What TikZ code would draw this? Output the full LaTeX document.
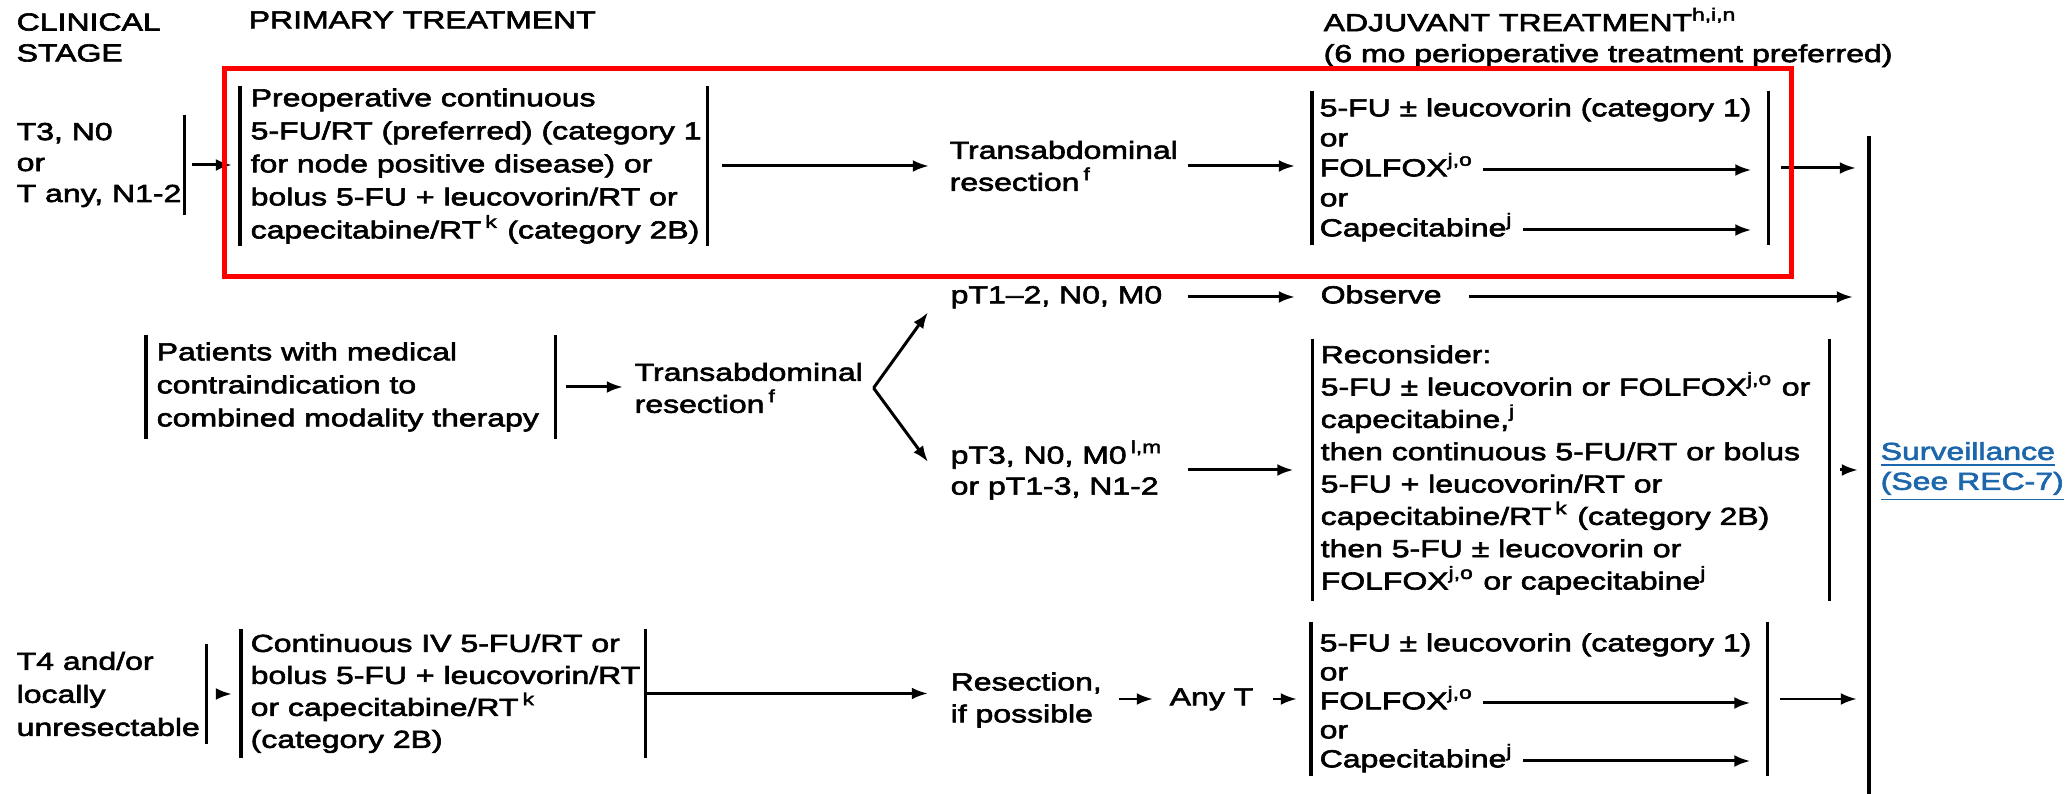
\documentclass[tikz,border=0pt]{standalone}
\usepackage{fontspec}
\setmainfont[FakeStretch=1.3,FakeBold=2.5]{Liberation Sans}
\usetikzlibrary{arrows.meta,positioning}
\definecolor{survblue}{RGB}{28,102,172}
\newcommand{\fnm}[1]{\textsuperscript{#1}}

\begin{document}
\begin{tikzpicture}[
  every node/.style={font=\fontsize{7pt}{9pt}\selectfont, align=left,
                     inner xsep=0.06cm, inner ysep=0.03cm},
  lead/.style={font=\fontsize{7pt}{#1}\selectfont},
  one/.style={text height=5.1pt, text depth=1.5pt},
  framebox/.style args={#1/#2}{inner sep=0pt, anchor=west,
                               minimum width=#1, minimum height=#2},
  bar/.style={line width=0.9pt},
  arr/.style={-{Latex[length=4.6pt,width=3.4pt]}, line width=0.85pt,
              shorten <=0.10cm, shorten >=0.10cm},
  gaparr/.style={arr, shorten <=0.19cm, shorten >=0.19cm},
  inarr/.style={arr, shorten <=0.03cm, shorten >=0.17cm},
]

\useasboundingbox (0,0) rectangle (20.69,7.94);

%% Column headers
\node[anchor=west, lead=8.8pt] (hstage) at (0.10,7.565) {CLINICAL\\STAGE};
\node[anchor=west, one] (hprim) at (2.42,7.72) {PRIMARY TREATMENT};
\node[anchor=west, lead=8.8pt] (hadj) at (13.17,7.565)
  {ADJUVANT TREATMENT\fnm{h,i,n}\\(6 mo perioperative treatment preferred)};

%% Surveillance line (all rows end here)
\coordinate (survtop) at (18.69,6.58);
\coordinate (survbot) at (18.69,0);
\draw[bar] (survtop) -- (survbot);

%% Row 1: T3, N0 or T any, N1-2
\node[framebox=1.73cm/0.98cm] (stage1) at (0.10,6.29) {};
\node[anchor=west, lead=8.8pt] (stage1-t) at (0.10,6.29) {T3, N0\\or\\T any, N1-2};
\node[framebox=4.66cm/1.58cm] (prim1) at (2.40,6.28) {};
\node[anchor=west, lead=9.4pt] (prim1-t) at (2.44,6.28)
  {Preoperative continuous\\5-FU/RT (preferred) (category 1\\for node positive disease) or\\bolus 5-FU + leucovorin/RT or\\capecitabine/RT\,\fnm{k} (category 2B)};
\node[anchor=west, lead=9.1pt] (trans1) at (9.43,6.28) {Transabdominal\\resection\,\fnm{f}};
\node[framebox=4.55cm/1.52cm] (adj1) at (13.12,6.26) {};
\foreach \i/\t in {0/{5-FU ± leucovorin (category 1)}, 1/or, 2/{FOLFOX\fnm{j,o}}, 3/or, 4/{Capecitabine\fnm{j}}}
  \node[anchor=west, one] (adj1-\i) at (13.13,6.84-0.30*\i) {\t};

\draw[arr, shorten <=0.08cm, shorten >=0.08cm] (stage1.east) -- (stage1.east -| prim1.west);
\draw[arr, shorten <=0.15cm, shorten >=0.14cm] (prim1.east) -- (prim1.east -| trans1.west);
\draw[arr, shorten <=0.03cm, shorten >=0.17cm] (trans1.east |- prim1.east) -- (adj1.west |- prim1.east);
\draw[inarr] (adj1-2.east) -- (adj1-2.east -| adj1.east);
\draw[inarr] (adj1-4.east) -- (adj1-4.east -| adj1.east);
\draw[arr, shorten <=0.13cm, shorten >=0.13cm] (adj1.east) -- (adj1.east -| survtop);

%% Row 2: medical contraindication
\node[anchor=west, one] (pT12) at (9.44,4.97) {pT1–2, N0, M0};
\node[anchor=west, one] (obs) at (13.14,4.97) {Observe};
\draw[gaparr] (pT12) -- (obs);
\draw[arr, shorten <=0.21cm, shorten >=0.16cm] (obs.east) -- (obs.east -| survtop);

\node[framebox=4.08cm/1.03cm] (pat) at (1.46,4.07) {};
\node[anchor=west, lead=9.4pt] (pat-t) at (1.50,4.07)
  {Patients with medical\\contraindication to\\combined modality therapy};
\node[anchor=west, lead=9.1pt] (trans2) at (6.28,4.06) {Transabdominal\\resection\,\fnm{f}};
\draw[arr, shorten <=0.11cm, shorten >=0.05cm] (pat.east) -- (pat.east -| trans2.west);

\node[anchor=west, lead=8.8pt] (pT3) at (9.44,3.24) {pT3, N0, M0\,\fnm{l,m}\\or pT1-3, N1-2};
\coordinate (branch) at ([xshift=0.04cm]trans2.east);
\draw[arr, shorten <=0pt, shorten >=0pt] (branch) -- ([xshift=-0.16cm]pT12.south west);
\draw[arr, shorten <=0pt, shorten >=0pt] (branch) -- ([xshift=-0.16cm,yshift=0.08cm]pT3.west);

\node[framebox=5.155cm/2.60cm] (recon) at (13.125,3.24) {};
\node[anchor=west, lead=9.2pt] (recon-t) at (13.14,3.24)
  {Reconsider:\\5-FU ± leucovorin or FOLFOX\fnm{j,o} or\\capecitabine,\fnm{j}\\then continuous 5-FU/RT or bolus\\5-FU + leucovorin/RT or\\capecitabine/RT\,\fnm{k} (category 2B)\\then 5-FU ± leucovorin or\\FOLFOX\fnm{j,o} or capecitabine\fnm{j}};
\draw[arr, shorten <=0.18cm, shorten >=0.19cm] (pT3.east) -- (pT3.east -| recon.west);
\draw[arr, shorten <=0.11cm, shorten >=0.11cm] (recon.east) -- (recon.east -| survtop);
\node[anchor=west, lead=8.5pt, text=survblue] (surv) at (18.74,3.22)
  {\underline{Surveillance}\\\underline{(See REC-7)}};

%% Row 3: T4 and/or locally unresectable
\node[framebox=1.95cm/0.98cm] (stage3) at (0.10,1.00) {};
\node[anchor=west, lead=9.4pt] (stage3-t) at (0.10,1.00) {T4 and/or\\locally\\unresectable};
\node[framebox=4.03cm/1.27cm] (prim3) at (2.41,1.005) {};
\node[anchor=west, lead=9.1pt] (prim3-t) at (2.44,1.005)
  {Continuous IV 5-FU/RT or\\bolus 5-FU + leucovorin/RT\\or capecitabine/RT\,\fnm{k}\\(category 2B)};
\draw[arr, shorten <=0.12cm, shorten >=0.09cm] (stage3.east) -- (stage3.east -| prim3.west);
\node[anchor=west, lead=9.1pt] (res) at (9.44,0.94) {Resection,\\if possible};
\draw[arr, shorten <=0pt, shorten >=0.16cm] (prim3.east) -- (prim3.east -| res.west);
\node[anchor=west, one] (anyT) at (11.63,0.95) {Any T};
\draw[arr] (anyT.west -| res.east) -- (anyT.west);
\node[framebox=4.55cm/1.52cm] (adj3) at (13.11,0.95) {};
\foreach \i/\t in {0/{5-FU ± leucovorin (category 1)}, 1/or, 2/{FOLFOX\fnm{j,o}}, 3/or, 4/{Capecitabine\fnm{j}}}
  \node[anchor=west, one] (adj3-\i) at (13.13,1.49-0.29*\i) {\t};
\draw[arr, shorten <=0.13cm, shorten >=0.14cm] (anyT.east) -- (anyT.east -| adj3.west);
\draw[inarr] (adj3-2.east) -- (adj3-2.east -| adj3.east);
\draw[inarr] (adj3-4.east) -- (adj3-4.east -| adj3.east);
\draw[arr, shorten <=0.13cm, shorten >=0.12cm] (adj3.east) -- (adj3.east -| survtop);

%% Side bars
\foreach \n in {prim1,adj1,pat,recon,prim3,adj3}
  \draw[bar] (\n.north west) -- (\n.south west) (\n.north east) -- (\n.south east);
\foreach \n in {stage1,stage3}
  \draw[bar] (\n.north east) -- (\n.south east);

%% Highlight
\draw[red, line width=0.05cm] (2.24,7.25) rectangle (17.91,5.17);

\end{tikzpicture}
\end{document}
